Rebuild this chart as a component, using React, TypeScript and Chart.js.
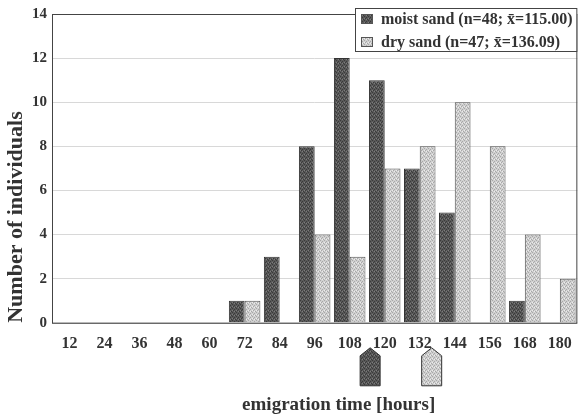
import React, { useEffect, useRef } from "react";
import { Chart, registerables } from "chart.js";

Chart.register(...registerables);

const categories = ["12", "24", "36", "48", "60", "72", "84", "96", "108", "120", "132", "144", "156", "168", "180"];
const moistValues = [0, 0, 0, 0, 0, 1, 3, 8, 12, 11, 7, 5, 0, 1, 0];
const dryValues = [0, 0, 0, 0, 0, 1, 0, 4, 3, 7, 8, 10, 8, 4, 2];
const seriesLabels = ["moist sand (n=48; x\u0304=115.00)", "dry sand (n=47; x\u0304=136.09)"];
const seriesMeans = [115.0, 136.09];
const firstCategory = 12;
const categoryStep = 12;
const xTitle = "emigration time [hours]";
const yTitle = "Number of individuals";

const FONT = "'Liberation Serif', 'Times New Roman', serif";

function makePattern(base: string, dot: string, dot2: string) {
  const c = document.createElement("canvas");
  c.width = 4;
  c.height = 4;
  const g = c.getContext("2d")!;
  g.fillStyle = base;
  g.fillRect(0, 0, 4, 4);
  g.fillStyle = dot;
  g.fillRect(0, 0, 1, 1);
  g.fillRect(2, 1, 1, 1);
  g.fillRect(1, 2, 1, 1);
  g.fillRect(3, 3, 1, 1);
  g.fillStyle = dot2;
  g.fillRect(2, 3, 1, 1);
  g.fillRect(0, 2, 1, 1);
  const ctx = document.createElement("canvas").getContext("2d")!;
  return ctx.createPattern(c, "repeat")!;
}

export default function App() {
  const ref = useRef<HTMLCanvasElement>(null);
  useEffect(() => {
    document.body.style.margin = "0";
    const darkPat = makePattern("#595959", "#3a3a3a", "#7c7c7c");
    const lightPat = makePattern("#d0d0d0", "#a8a8a8", "#ececec");
    const pats = [darkPat, lightPat];

    const framePlugin = {
      id: "frame",
      afterDraw(chart: any) {
        const { ctx, chartArea: a, scales } = chart;
        ctx.save();
        // plot border
        ctx.strokeStyle = "#444";
        ctx.lineWidth = 1;
        ctx.strokeRect(a.left + 0.5, a.top + 0.5, a.right - a.left - 1, a.bottom - a.top);
        // mean arrows
        const xs = scales.x;
        seriesMeans.forEach((m, i) => {
          const idx = (m - firstCategory) / categoryStep;
          const cx = xs.getPixelForValue(idx);
          const w = 20;
          const top = a.bottom + 25;
          const sh = top + 8;
          const bot = top + 38;
          ctx.beginPath();
          ctx.moveTo(cx, top);
          ctx.lineTo(cx + w / 2, sh);
          ctx.lineTo(cx + w / 2, bot);
          ctx.lineTo(cx - w / 2, bot);
          ctx.lineTo(cx - w / 2, sh);
          ctx.closePath();
          ctx.fillStyle = pats[i];
          ctx.fill();
          ctx.strokeStyle = "#333";
          ctx.stroke();
        });
        // x axis title
        ctx.fillStyle = "#333";
        ctx.font = "bold 19px " + FONT;
        ctx.textAlign = "center";
        ctx.textBaseline = "middle";
        ctx.fillText(xTitle, (a.left + a.right) / 2 + 24, 405);
        // legend
        const lx = 355.5, ly = 8.5, lw = a.right - 356, lh = 43;
        ctx.fillStyle = "#fff";
        ctx.fillRect(lx, ly, lw, lh);
        ctx.strokeStyle = "#444";
        ctx.strokeRect(lx, ly, lw, lh);
        ctx.font = "bold 16px " + FONT;
        ctx.textBaseline = "middle";
        ctx.textAlign = "left";
        seriesLabels.forEach((t, i) => {
          const y = 19 + i * 23;
          ctx.fillStyle = pats[i];
          ctx.fillRect(361, y - 5, 12, 10);
          ctx.strokeStyle = "#555";
          ctx.strokeRect(361.5, y - 4.5, 11, 9);
          ctx.fillStyle = "#333";
          ctx.fillText(t, 381, y + 1);
        });
        ctx.restore();
      },
    };

    const chart = new Chart(ref.current!, {
      type: "bar",
      data: {
        labels: categories,
        datasets: [
          {
            label: seriesLabels[0],
            data: moistValues,
            backgroundColor: darkPat as any,
            borderColor: "#333",
            borderWidth: 1,
          },
          {
            label: seriesLabels[1],
            data: dryValues,
            backgroundColor: lightPat as any,
            borderColor: "#555",
            borderWidth: 1,
          },
        ],
      },
      options: {
        responsive: false,
        animation: false,
        layout: { padding: { top: 8, right: 5, left: 5, bottom: 56 } },
        plugins: { legend: { display: false }, tooltip: { enabled: false } },
        datasets: { bar: { categoryPercentage: 0.9, barPercentage: 1.0 } },
        scales: {
          x: {
            grid: { display: false, drawTicks: false },
            border: { display: false },
            ticks: { color: "#333", font: { family: FONT, size: 16, weight: "bold" }, padding: 11 },
          },
          y: {
            min: 0,
            max: 14,
            ticks: { stepSize: 2, color: "#333", font: { family: FONT, size: 15, weight: "bold" }, padding: 5 },
            grid: { color: "#d8d8d8", drawTicks: false },
            border: { display: false },
            title: {
              display: true,
              text: yTitle,
              align: "start",
              color: "#333",
              font: { family: FONT, size: 22, weight: "bold", lineHeight: 1.0 },
              padding: { top: 0, bottom: 0 },
            },
          },
        },
      },
      plugins: [framePlugin],
    });
    return () => chart.destroy();
  }, []);
  return (
    <div style={{ width: 583, height: 420, background: "#fff" }}>
      <canvas ref={ref} width={583} height={420} />
    </div>
  );
}
